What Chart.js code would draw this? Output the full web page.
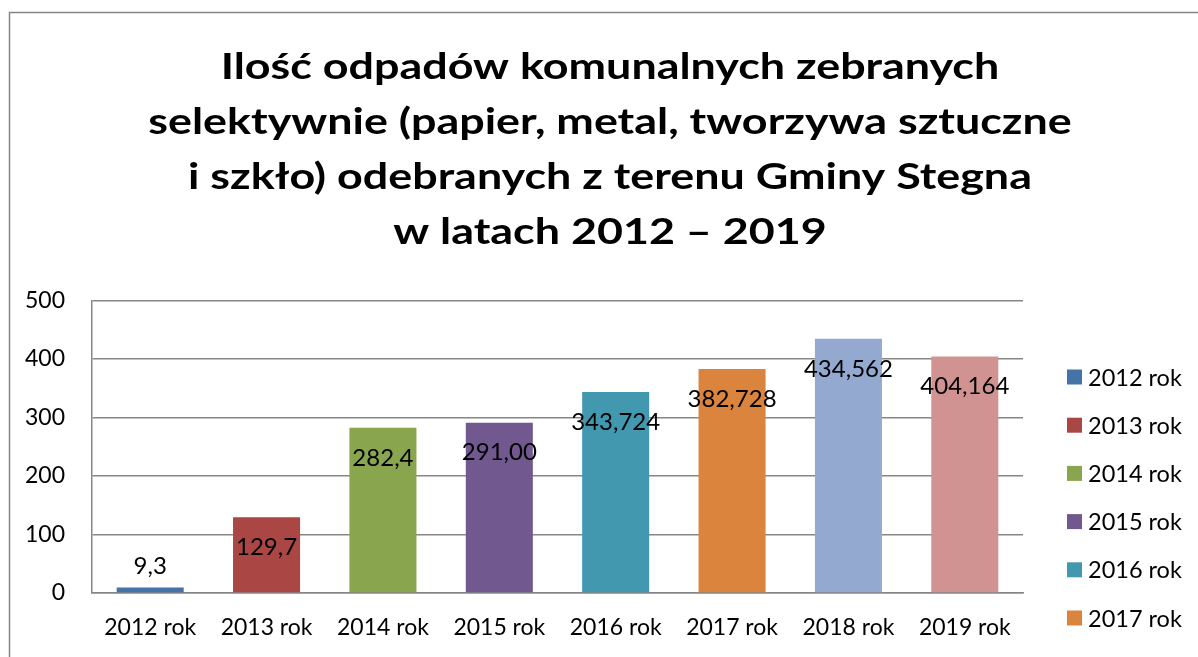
<!DOCTYPE html>
<html>
<head>
<meta charset="utf-8">
<script src="https://cdn.jsdelivr.net/npm/chart.js@4/dist/chart.umd.min.js"></script>
<style>
html,body{margin:0;padding:0;background:#fff;}
#wrap{width:1198px;height:657px;position:relative;}
</style>
</head>
<body>
<div id="wrap"><canvas id="c" width="1198" height="657"></canvas></div>
<script>
const categories = ['2012 rok','2013 rok','2014 rok','2015 rok','2016 rok','2017 rok','2018 rok','2019 rok'];
const values = [9.3, 129.7, 282.4, 291.0, 343.724, 382.728, 434.562, 404.164];
const valueLabels = ['9,3','129,7','282,4','291,00','343,724','382,728','434,562','404,164'];
const barColors = ['#4572A7','#AA4643','#89A54E','#71588F','#4198AF','#DB843D','#93A9CF','#D19392'];
const yTicks = [0, 100, 200, 300, 400, 500];
const titleLines = [
  'Ilość odpadów komunalnych zebranych',
  'selektywnie (papier, metal, tworzywa sztuczne',
  'i szkło) odebranych z terenu Gminy Stegna',
  'w latach 2012 – 2019'
];

const FONT = 'Lato, "Open Sans", sans-serif';

const framePlugin = {
  id: 'frame',
  beforeDraw(chart) {
    const ctx = chart.ctx;
    ctx.save();
    ctx.fillStyle = '#ffffff';
    ctx.fillRect(0, 0, chart.width, chart.height);
    ctx.strokeStyle = '#868686';
    ctx.lineWidth = 1.5;
    ctx.strokeRect(9.5, 12.5, 1400, 900);
    // title
    ctx.fillStyle = '#000000';
    ctx.font = 'bold 37px ' + FONT;
    ctx.textAlign = 'center';
    ctx.textBaseline = 'alphabetic';
    titleLines.forEach((t, i) => {
      ctx.save();
      ctx.translate(610, 78.5 + i * 55);
      ctx.scale(1.212, 1);
      ctx.fillText(t, 0, 0);
      ctx.restore();
    });
    ctx.restore();
  },
  afterDraw(chart) {
    const ctx = chart.ctx;
    ctx.save();
    ctx.font = '23.5px ' + FONT;
    ctx.textBaseline = 'middle';
    ctx.textAlign = 'left';
    categories.forEach((c, i) => {
      const cy = 377 + i * 48.2;
      ctx.fillStyle = barColors[i];
      ctx.fillRect(1067, cy - 7.5, 15, 15);
      ctx.fillStyle = '#000000';
      ctx.fillText(c, 1088, cy + 1);
    });
    ctx.restore();
  }
};

const labelPlugin = {
  id: 'valueLabels',
  afterDatasetsDraw(chart) {
    const ctx = chart.ctx;
    const meta = chart.getDatasetMeta(0);
    ctx.save();
    ctx.font = '24px ' + FONT;
    ctx.fillStyle = '#000000';
    ctx.textAlign = 'center';
    ctx.textBaseline = 'middle';
    meta.data.forEach((bar, i) => {
      const h = bar.base - bar.y;
      const y = h > 45 ? bar.y + 30 : bar.y - 21;
      ctx.fillText(valueLabels[i], bar.x, y);
    });
    ctx.restore();
  }
};

new Chart(document.getElementById('c'), {
  type: 'bar',
  data: {
    labels: categories,
    datasets: [{
      data: values,
      backgroundColor: barColors,
      borderWidth: 0,
      categoryPercentage: 1,
      barPercentage: 0.576
    }]
  },
  options: {
    responsive: false,
    animation: false,
    devicePixelRatio: 1,
    layout: { padding: { top: 300.5, right: 175, bottom: 0, left: 0 } },
    plugins: {
      legend: { display: false },
      title: { display: false },
      tooltip: { enabled: false }
    },
    scales: {
      x: {
        grid: { display: false, drawTicks: false },
        border: { display: true, color: '#868686', width: 1.5 },
        ticks: { color: '#000000', font: { family: FONT, size: 23 }, padding: 21, maxRotation: 0 },
        afterFit(s) { s.height = 64; }
      },
      y: {
        min: 0,
        max: 500,
        afterBuildTicks(s) { s.ticks = yTicks.map(v => ({ value: v })); },
        grid: { color: '#868686', lineWidth: 1.5, drawTicks: false },
        border: { display: true, color: '#868686', width: 1.5 },
        ticks: { color: '#000000', font: { family: FONT, size: 23 }, padding: 27 },
        afterFit(s) { s.width = 92; }
      }
    }
  },
  plugins: [framePlugin, labelPlugin]
});
</script>
</body>
</html>
